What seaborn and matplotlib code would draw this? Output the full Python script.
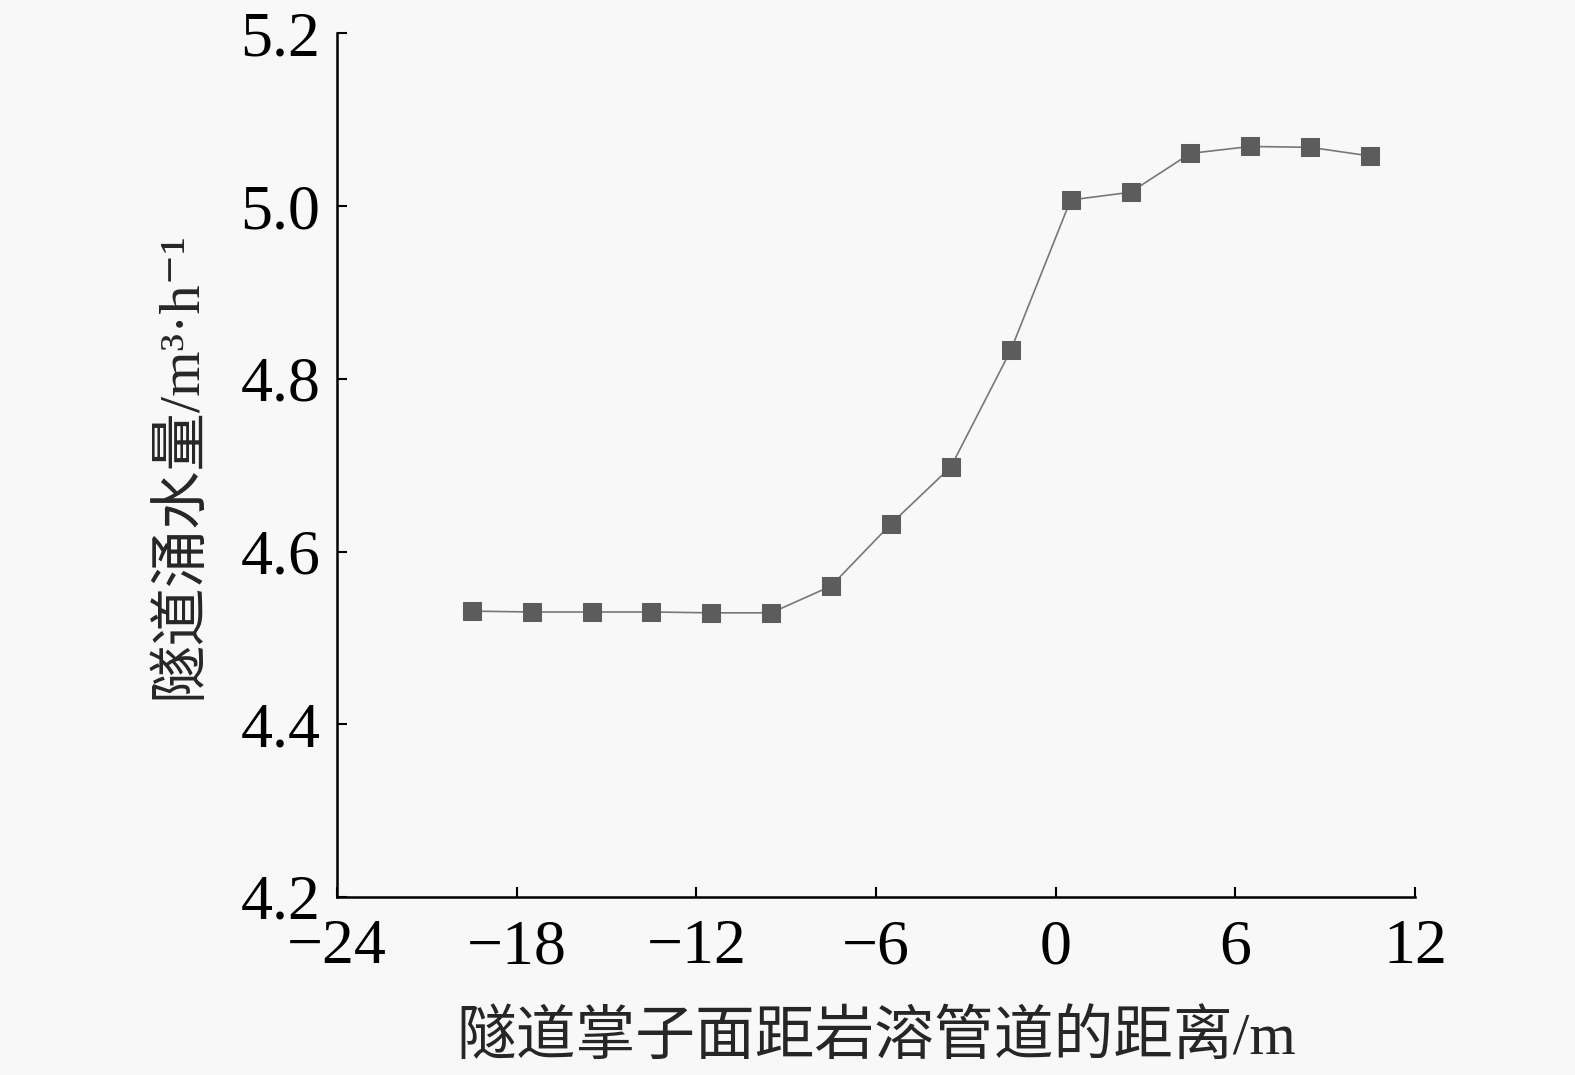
import numpy as np
import pandas as pd
import seaborn as sns
import matplotlib.pyplot as plt

# distance from tunnel face to karst conduit (m) and water inflow (m3/h)
distance = [-19.5, -17.5, -15.5, -13.5, -11.5, -9.5, -7.5, -5.5, -3.5, -1.5,
            0.5, 2.5, 4.5, 6.5, 8.5, 10.5]
inflow = [4.531, 4.530, 4.530, 4.530, 4.529, 4.529, 4.560, 4.632, 4.698, 4.833,
          5.007, 5.016, 5.061, 5.069, 5.068, 5.058]
x_ticks = [-24, -18, -12, -6, 0, 6, 12]
y_ticks = [4.2, 4.4, 4.6, 4.8, 5.0, 5.2]

sns.set_style("ticks")
fams = ["Liberation Serif", "Noto Sans CJK SC", "DejaVu Serif"]
plt.rcParams["font.family"] = fams
plt.rcParams["axes.unicode_minus"] = True

data = pd.DataFrame({"x": distance, "y": inflow})

fig = plt.figure(figsize=(15.75, 10.75), dpi=100, facecolor="#f8f8f8")
ax = fig.add_axes([0.214, 0.1656, 0.6844, 0.8034])
ax.set_facecolor("#f8f8f8")

sns.lineplot(data=data, x="x", y="y", ax=ax, color="#777777", linewidth=1.2,
             marker="s", markersize=13, markerfacecolor="#5c5c5c",
             markeredgecolor="#5c5c5c")

ax.set_xlim(-24, 12)
ax.set_ylim(4.2, 5.2)
ax.set_xticks(x_ticks)
ax.set_yticks(y_ticks)
ax.set_xticklabels([str(t).replace("-", "\u2212") for t in x_ticks])
ax.set_yticklabels([f"{t:.1f}" for t in y_ticks])
ax.tick_params(direction="in", length=7, width=1.5, labelsize=46, colors="black")
ax.tick_params(axis="y", pad=12)
ax.tick_params(axis="x", pad=16)
for s in ["top", "right"]:
    ax.spines[s].set_visible(False)
for s in ["left", "bottom"]:
    ax.spines[s].set_linewidth(1.8)
    ax.spines[s].set_color("black")

ax.set_xlabel("隧道掌子面距岩溶管道的距离/m", fontsize=43, labelpad=24)
ax.set_ylabel("隧道涌水量/m³·h⁻¹", fontsize=42, labelpad=24)

fig.savefig("out.png", dpi=100, facecolor=fig.get_facecolor())
